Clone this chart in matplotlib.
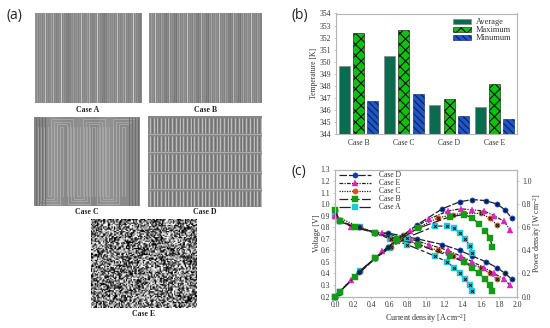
#!/usr/bin/python
# -*- coding: utf-8 -*-
import numpy as np
import matplotlib
matplotlib.use('Agg')
from matplotlib import pyplot as plt

W, H = 550, 328

# (b) temperatures
cases_b = ['Case B', 'Case C', 'Case D', 'Case E']
t_average = [349.6, 350.45, 346.4, 346.2]
t_maximum = [352.4, 352.6, 346.85, 348.15]
t_minimum = [346.75, 347.3, 345.5, 345.25]

# (c) polarisation curves
i_d = [0.0, 0.04, 0.26, 0.44, 0.58, 0.90, 1.18, 1.37, 1.51, 1.66, 1.78, 1.87, 1.94]
v_d = [0.95, 0.85, 0.80, 0.75, 0.75, 0.70, 0.65, 0.60, 0.55, 0.50, 0.45, 0.40, 0.35]
p_d = [0.0, 0.03, 0.21, 0.33, 0.43, 0.62, 0.76, 0.82, 0.84, 0.83, 0.80, 0.75, 0.68]
i_e = [0.0, 0.18, 0.52, 0.82, 1.03, 1.24, 1.38, 1.51, 1.64, 1.75, 1.86, 1.92]
v_e = [0.90, 0.80, 0.75, 0.70, 0.65, 0.60, 0.55, 0.50, 0.45, 0.40, 0.35, 0.30]
p_e = [0.0, 0.14, 0.39, 0.57, 0.67, 0.74, 0.76, 0.75, 0.74, 0.70, 0.65, 0.58]
i_c = [0.0, 0.27, 0.44, 0.62, 0.75, 0.92, 1.13, 1.30, 1.42, 1.60, 1.70, 1.78]
v_c = [0.90, 0.80, 0.75, 0.70, 0.70, 0.65, 0.60, 0.55, 0.50, 0.45, 0.40, 0.35]
p_c = [0.0, 0.22, 0.33, 0.43, 0.53, 0.60, 0.68, 0.71, 0.72, 0.72, 0.68, 0.62]
i_b = [0.0, 0.05, 0.22, 0.44, 0.68, 0.91, 1.26, 1.42, 1.51, 1.58, 1.65, 1.70, 1.73]
v_b = [0.95, 0.85, 0.80, 0.75, 0.70, 0.65, 0.55, 0.50, 0.45, 0.40, 0.35, 0.30, 0.25]
p_b = [0.0, 0.04, 0.17, 0.33, 0.48, 0.59, 0.69, 0.71, 0.68, 0.63, 0.57, 0.51, 0.43]
i_a = [0.0, 0.05, 0.27, 0.44, 0.60, 0.79, 1.10, 1.23, 1.31, 1.37, 1.43, 1.48, 1.51]
v_a = [0.90, 0.85, 0.80, 0.75, 0.70, 0.65, 0.55, 0.50, 0.45, 0.40, 0.35, 0.30, 0.25]
p_a = [0.0, 0.04, 0.22, 0.33, 0.42, 0.51, 0.61, 0.61, 0.59, 0.55, 0.50, 0.44, 0.38]

# (a) flow field textures: gray level per column / speckle tile
stripes_a = [.58, .54, .62, .52, .58, .54, .60, .52, .58, .54, .76, .52, .58, .52, .56, .54, .62, .54, .70, .52,
             .56, .50, .54, .52, .58, .54, .80, .52, .60, .52, .56, .50, .52, .48, .54, .50]
stripes_b = [.58, .52, .62, .54, .58, .50, .78, .52, .58, .52, .56, .50, .64, .54, .58, .50, .52, .48, .54, .50,
             .72, .52, .58, .52, .56, .48, .52, .46, .60, .52, .66, .50]
speckle = ['07290518364', '52907163082', '18350942671', '90627183504', '36184095272', '71905238640',
           '24096817350', '85173620491', '09542716038', '63728105949', '40916382750', '17380594206']
c_top_centres = [62, 94, 124]
c_bottom_centres = [49, 79, 108]
c_edge_stripes = [36, 39, 42, 45, 129, 132, 135, 138]
d_row_lines = [134, 152, 172, 189]


def pxAxes(x0, y0, x1, y1, **kw):
	return fig.add_axes([x0/W, 1 - y1/H, (x1 - x0)/W, (y1 - y0)/H], **kw)


def texturePanel(box, label, labelY):
	ax = pxAxes(*box)
	ax.set_xlim(box[0], box[2])
	ax.set_ylim(box[3], box[1])
	ax.axis('off')
	fig.text((box[0] + box[2])/2/W, 1 - labelY/H, label, ha='center', va='center', fontsize=5.6,
			 fontweight='bold', color='#222222')
	return ax


def stripeImage(ax, box, stripes):
	nCols = int((box[2] - box[0])/1.0)
	col = np.resize(stripes, nCols)
	ax.imshow(np.tile(col, (4, 1)), cmap='gray', vmin=0, vmax=1, aspect='auto', interpolation='bilinear',
			  extent=(box[0], box[2], box[3], box[1]))


def nestedU(ax, centre, yEnd, yStart, direction, n=4, step=3.2):
	for k in range(n):
		half = 1.5 + k*step
		y = yEnd - direction*k*step*0.8
		ax.plot([centre - half, centre - half, centre + half, centre + half], [yStart, y, y, yStart],
				color='#b0b0b0', lw=0.5, solid_joinstyle='miter')


fig = plt.figure(figsize=(W/100, H/100), dpi=100)
plt.rcParams['font.family'] = ['Liberation Serif']
plt.rcParams['mathtext.default'] = 'regular'
plt.rcParams['hatch.linewidth'] = 0.8
textColor = '#333333'
axisColor = '#b5b5b5'

# panel (a)
boxA = (34.5, 12.5, 141.5, 103.5)
boxB = (149, 12.5, 262, 103.5)
boxC = (34, 117, 140, 206)
boxD = (148, 116, 262, 207)
boxE = (91, 219, 197, 308)

ax = texturePanel(boxA, 'Case A', 109.5)
stripeImage(ax, boxA, stripes_a)
ax = texturePanel(boxB, 'Case B', 109.5)
stripeImage(ax, boxB, stripes_b)

ax = texturePanel(boxC, 'Case C', 212)
ax.imshow([[.52, .58, .53, .57, .52, .58, .54, .54]], cmap='gray', vmin=0, vmax=1, aspect='auto',
		  interpolation='bilinear', extent=(boxC[0], boxC[2], boxC[3], boxC[1]))
for c in c_top_centres:
	nestedU(ax, c, 127, 196, 1)
for c in c_bottom_centres:
	nestedU(ax, c, 196, 127, -1)
ax.vlines(c_edge_stripes, boxC[1], boxC[3], color='#6e6e6e', lw=0.7)
ax.set_xlim(boxC[0], boxC[2])
ax.set_ylim(boxC[3], boxC[1])

ax = texturePanel(boxD, 'Case D', 212)
ax.imshow([[.53]], cmap='gray', vmin=0, vmax=1, aspect='auto', extent=(boxD[0], boxD[2], boxD[3], boxD[1]))
edges = [boxD[1]] + d_row_lines + [boxD[3]]
for top, bottom in zip(edges[:-1], edges[1:]):
	ax.vlines(np.arange(boxD[0] + 2, boxD[2], 3.7), top + 2, bottom - 1, color='#c8c8c8', lw=0.6)
	ax.vlines(np.arange(boxD[0] + 3.8, boxD[2], 3.7), top + 2, bottom - 1, color='#6a6a6a', lw=0.5)
ax.hlines(d_row_lines, boxD[0], boxD[2], color='#bdbdbd', lw=0.5)
ax.set_xlim(boxD[0], boxD[2])
ax.set_ylim(boxD[3], boxD[1])

ax = texturePanel(boxE, 'Case E', 314.5)
tile = np.array([[int(ch)/9 for ch in row] for row in speckle])
nx, ny = 88, 74
cells = np.array([[(tile[r % 12, (c*3 + r) % 11]*3.1 + tile[(r*5 + c) % 12, (c + r*r) % 11]*2.3) % 1
				   for c in range(nx)] for r in range(ny)])
ax.imshow(cells, cmap='gray', vmin=0.15, vmax=0.8, aspect='auto', interpolation='bilinear',
		  extent=(boxE[0], boxE[2], boxE[3], boxE[1]))

# panel letters
for letter, x, y in [('(a)', 6, 15), ('(b)', 291, 15), ('(c)', 292, 171)]:
	fig.text(x/W, 1 - y/H, letter, fontsize=10, family='Open Sans', ha='left', va='center', color='#222222')

# panel (b)
axB = pxAxes(336, 13.5, 517, 133.7)
pos = np.arange(len(cases_b))
barW = 0.243
off = 0.316
axB.bar(pos - off, t_average, barW, color='#0b6b4f', edgecolor='#888888', lw=0.5, label='Average')
axB.bar(pos, t_maximum, barW, color='#10c010', edgecolor='#111111', hatch='xxx', lw=0.4, label='Maximum')
axB.bar(pos + off, t_minimum, barW, color='#1f55c8', edgecolor='#0a1f55', hatch='\\\\\\\\\\', lw=0.4, label='Minumum')
axB.set_xlim(-0.5, 3.5)
axB.set_ylim(344, 354)
axB.set_yticks(np.arange(344, 355))
axB.set_xticks(pos, cases_b)
axB.set_ylabel('Temperature [K]', fontsize=5.5, color=textColor, labelpad=1)
axB.tick_params(axis='both', labelsize=5.5, labelcolor=textColor, color=axisColor, length=1.5, width=0.5, pad=2)
axB.tick_params(axis='x', length=0, pad=3.5)
for s in axB.spines.values():
	s.set_color(axisColor)
	s.set_linewidth(0.8)
axB.legend(loc='upper right', frameon=False, fontsize=6, handlelength=2.2, handleheight=0.5, labelspacing=0.0,
		   handletextpad=0.6, borderaxespad=0, borderpad=0, bbox_to_anchor=(0.97, 0.96), labelcolor=textColor)

# panel (c)
axC = pxAxes(335, 169.5, 517, 296.5)
axP = axC.twinx()
curves = [
	('Case D', i_d, v_d, p_d, (0, (6, 1.5)), 'o', '#0a3fa8', True, 4),
	('Case E', i_e, v_e, p_e, (0, (3, 1, 1, 1)), '^', '#e020c0', False, 5),
	('Case C', i_c, v_c, p_c, (0, (1, 1)), 'o', '#e84a10', True, 3),
	('Case B', i_b, v_b, p_b, (0, (7, 2)), 's', '#159a15', False, 6),
	('Case A', i_a, v_a, p_a, (0, (9, 2, 3, 2)), 's', '#20c8d8', True, 2),
]
for name, i, v, p, ls, m, fc, core, z in curves:
	axC.plot(i, v, ls=ls, color='#222222', lw=0.9, marker=m, ms=3.8, mfc=fc, mec=fc, mew=0.3, label=name,
			 clip_on=False, zorder=z)
	axP.plot(i, p, ls=ls, color='#222222', lw=0.9, marker=m, ms=3.8, mfc=fc, mec=fc, mew=0.3, clip_on=False, zorder=z)
	if core:
		axC.plot(i, v, ls='none', marker='x', ms=2, mec='#111111', mew=0.7, clip_on=False, zorder=z)
		axP.plot(i, p, ls='none', marker='x', ms=2, mec='#111111', mew=0.7, clip_on=False, zorder=z)
axC.set_xlim(0, 2.0)
axC.set_ylim(0.2, 1.3)
axP.set_ylim(0, 1.1)
axC.set_xticks(np.arange(0, 2.01, 0.2))
axC.set_yticks(np.arange(0.2, 1.31, 0.1))
axP.set_yticks(np.arange(0, 1.01, 0.2))
axC.set_xlabel('Current density [A cm$^{-2}$]', fontsize=5.8, color=textColor, labelpad=2)
axC.set_ylabel('Voltage [V]', fontsize=5.8, color=textColor, labelpad=0)
axP.set_ylabel('Power density [W cm$^{-2}$]', fontsize=5.8, color=textColor, labelpad=0)
for a in (axC, axP):
	a.tick_params(axis='both', labelsize=5.5, labelcolor=textColor, color=axisColor, length=1.5, width=0.5, pad=2)
	for s in a.spines.values():
		s.set_color(axisColor)
		s.set_linewidth(0.8)
axC.legend(loc='upper left', frameon=False, fontsize=5.5, handlelength=4.2, numpoints=1, labelspacing=0.0,
		   handletextpad=1.1, borderaxespad=0, borderpad=0, bbox_to_anchor=(0.02, 0.985), labelcolor=textColor)

fig.savefig('out.png', dpi=100)
